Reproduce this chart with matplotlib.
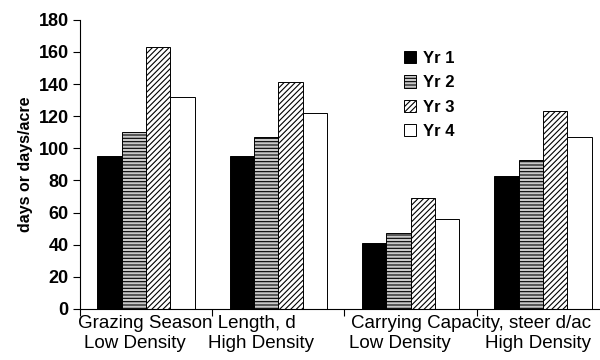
import numpy as np
import matplotlib.pyplot as plt

plt.rcParams['font.family'] = ['Liberation Sans', 'DejaVu Sans']
plt.rcParams['hatch.linewidth'] = 0.8

# === Data ===
years = ['Yr 1', 'Yr 2', 'Yr 3', 'Yr 4']
groups = ['Low Density', 'High Density', 'Low Density', 'High Density']
measures = ['Grazing Season Length, d', 'Carrying Capacity, steer d/ac']
yr1 = [95, 95, 41, 83]
yr2 = [110, 107, 47, 93]
yr3 = [163, 141, 69, 123]
yr4 = [132, 122, 56, 107]

fig = plt.figure(figsize=(6, 3.6), dpi=100)
ax = fig.add_axes([0.133, 0.142, 0.882, 0.803])

styles = [
    dict(facecolor='black', hatch=None),
    dict(facecolor='#c8c8c8', hatch='-----'),
    dict(facecolor='white', hatch='//////'),
    dict(facecolor='white', hatch=None),
]
w = 0.184
x = np.arange(len(groups)) + 0.5
for i, (vals, st) in enumerate(zip([yr1, yr2, yr3, yr4], styles)):
    ax.bar(x + (i - 1.5) * w, vals, width=w, edgecolor='black', linewidth=0.7,
           label=years[i], **st)

ax.set_xlim(0, 4)
ax.set_ylim(0, 180)
ax.set_yticks(np.arange(0, 181, 20))
for t in ax.get_yticklabels():
    t.set_fontweight('bold')
ax.tick_params(axis='y', labelsize=13, length=5, width=0.8, pad=3)
ax.set_ylabel('days or days/acre', fontsize=11.5, fontweight='bold', labelpad=4)

# boundary ticks, labels under the groups
ax.set_xticks([0, 1, 2, 3, 4])
ax.set_xticklabels([])
ax.tick_params(axis='x', length=5, width=0.8)
for xi, dx, g in zip(x, [-0.08, -0.13, -0.08, -0.04], groups):
    ax.text(xi + dx, -0.09, g, transform=ax.get_xaxis_transform(),
            ha='center', va='top', fontsize=13.5)
for xi, m in zip([0.81, 2.96], measures):
    ax.text(xi, -0.022, m, transform=ax.get_xaxis_transform(),
            ha='center', va='top', fontsize=13.5)

ax.spines['top'].set_visible(False)
ax.spines['right'].set_visible(False)
for s in ['left', 'bottom']:
    ax.spines[s].set_linewidth(0.8)

ax.legend(loc='upper left', bbox_to_anchor=(0.648, 0.9), bbox_transform=fig.transFigure,
          frameon=False, prop={'weight': 'bold', 'size': 12},
          handlelength=0.75, handleheight=0.75, handletextpad=0.4, labelspacing=0.56)

fig.savefig('out.png', dpi=100)
